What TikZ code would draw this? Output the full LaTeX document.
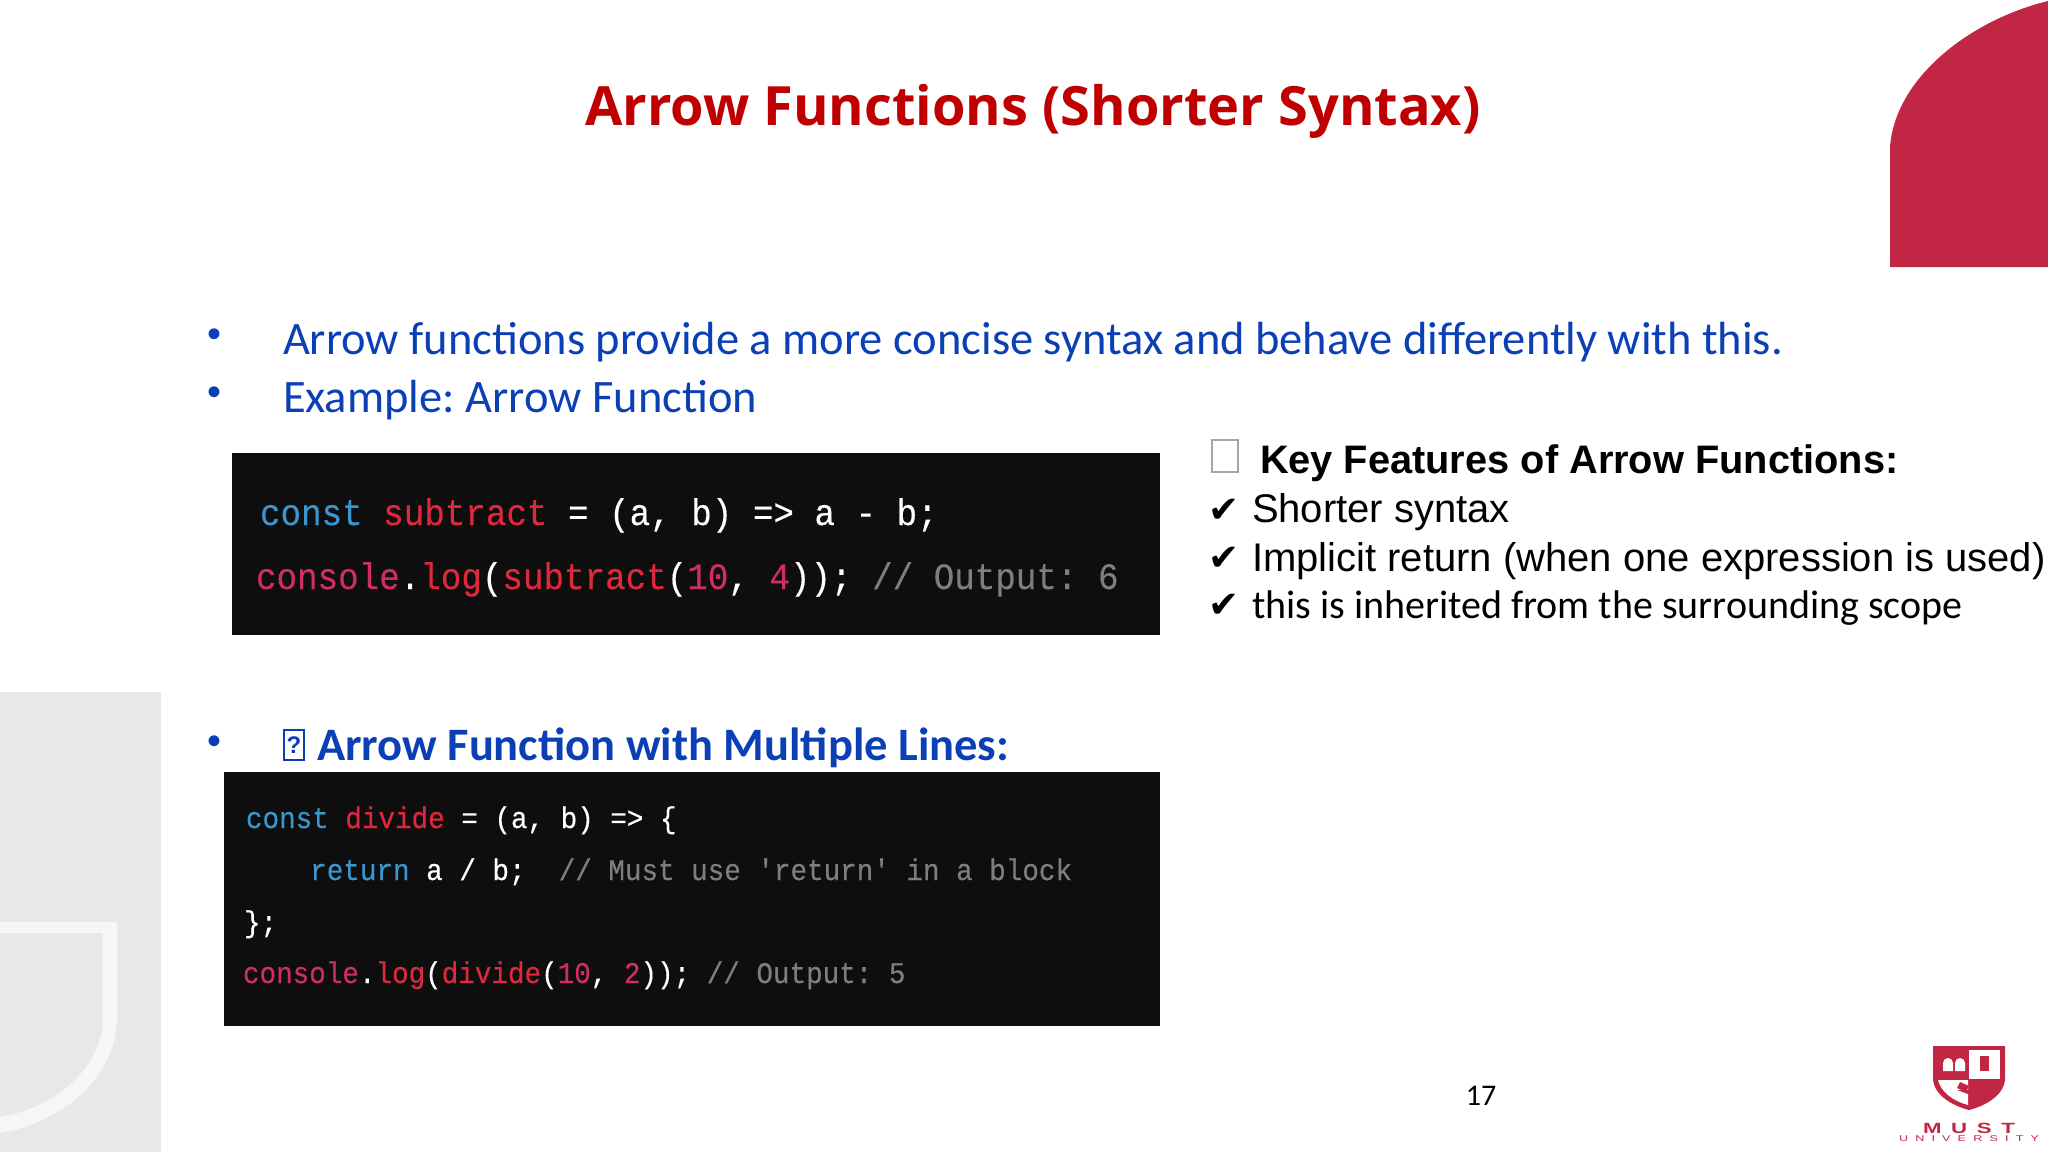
\documentclass[tikz,border=0pt]{standalone}
\usepackage{fontspec}
\usepackage{xcolor}
\usetikzlibrary{positioning}
\setmainfont{Carlito}
\newfontfamily\titlefont{Open Sans}
\newfontfamily\arialfont{Liberation Sans}
\newfontfamily\dejavufont{DejaVu Sans}
\newfontfamily\codefont[FakeStretch=0.92,FakeBold=0.3]{Liberation Mono}
\newfontfamily\logofont[FakeStretch=1.5]{Liberation Sans}
\definecolor{mustred}{HTML}{C12745}
\definecolor{titlered}{HTML}{C00000}
\definecolor{bodyblue}{HTML}{0B3FB5}
\definecolor{codebg}{HTML}{0E0E0E}
\definecolor{codeblue}{HTML}{3A96CC}
\definecolor{codered}{HTML}{E0283C}
\definecolor{codepink}{HTML}{D02C68}
\definecolor{codegray}{HTML}{7E7E7E}
\newcommand{\kw}[1]{\textcolor{codeblue}{#1}}
\newcommand{\fn}[1]{\textcolor{codered}{#1}}
\newcommand{\num}[1]{\textcolor{codepink}{#1}}
\newcommand{\cmt}[1]{\textcolor{codegray}{#1}}
\frenchspacing

\begin{document}
\begin{tikzpicture}[
    x=0.5pt, y=-0.5pt,
    every node/.style={inner sep=0pt, outer sep=0pt},
    slidetitle/.style={anchor=base, text=titlered, font=\titlefont\bfseries\fontsize{27.07}{30}\selectfont},
    bodyline/.style={anchor=base west, text=bodyblue, font=\fontsize{23.25}{26}\selectfont},
    dotmark/.style={anchor=base, text=bodyblue, font=\arialfont\fontsize{20}{24}\selectfont},
    featline/.style={anchor=base west, font=\arialfont\fontsize{20}{24}\selectfont},
    tickmark/.style={anchor=base west, font=\dejavufont\fontsize{18.5}{22}\selectfont},
    codebox/.style={anchor=north west, fill=codebg},
    codebig/.style={anchor=base west, text=white, font=\codefont\fontsize{18.6}{22}\selectfont},
    codesmall/.style={anchor=base west, text=white, font=\codefont\fontsize{15}{18}\selectfont}
]
\useasboundingbox (0,0) rectangle (2048,1152);

% corner shapes
\fill[gray!18] (0,692) rectangle (161,1152);
\fill[white!60!gray!18!white] (0,922) -- (117,922) -- (117,1017) .. controls (117,1075) and (65,1122) .. (0,1133) -- (0,1117) .. controls (55,1108) and (103,1068) .. (103,1017) -- (103,933) -- (0,933) -- cycle;
\fill[mustred] (1890,267) -- (1890,147) .. controls (1895,78) and (1970,20) .. (2048,1) -- (2048,267) -- cycle;

% title and bullets
\node[slidetitle] (title) at (1033,125) {Arrow Functions (Shorter Syntax)};
\node[dotmark] (dotA) at (214,347) {•};
\node[dotmark] (dotB) at (214,405) {•};
\node[dotmark] (dotC) at (214,754) {•};
\node[bodyline] (lineA) at (283,354) {Arrow functions provide a more concise syntax and behave differently with this.};
\node[bodyline] (lineB) at (283,412) {Example: Arrow Function};
\node[draw=bodyblue, line width=0.8pt, minimum width=10pt, minimum height=15pt, anchor=north west, text=bodyblue, font=\arialfont\bfseries\fontsize{12}{14}\selectfont] (tofuC) at (284,730) {?};
\node[bodyline, font=\bfseries\fontsize{23.25}{26}\selectfont] (lineC) at (317,760) {Arrow Function with Multiple Lines:};

% first code block
\node[codebox, minimum width=464pt, minimum height=91pt] (codeA) at (232,453) {};
\node[codebig] (codeAa) at (260,525) {\kw{const} \fn{subtract} = (a, b) => a - b;};
\node[codebig] (codeAb) at (256,589) {\textcolor{codepink}{console}.\fn{log}(\fn{subtract}(\num{10}, \num{4})); \cmt{// Output: 6}};

% second code block
\node[codebox, minimum width=468pt, minimum height=127pt] (codeB) at (224,772) {};
\node[codesmall] (codeBa) at (246,828) {\kw{const} \fn{divide} = (a, b) => \{};
\node[codesmall] (codeBb) at (244,880) {\phantom{xxxx}\kw{return} a / b;\phantom{x} \cmt{// Must use 'return' in a block}};
\node[codesmall] (codeBc) at (244,932) {\};};
\node[codesmall] (codeBd) at (243,983) {\textcolor{codepink}{console}.\fn{log}(\fn{divide}(\num{10}, \num{2})); \cmt{// Output: 5}};

% key features
\node[draw=gray!70, line width=0.6pt, minimum width=13pt, minimum height=16pt, anchor=north west] (tofuD) at (1212,440) {};
\node[featline, font=\arialfont\bfseries\fontsize{19.88}{24}\selectfont] (featHead) at (1260,473) {Key Features of Arrow Functions:};
\node[tickmark] (tickA) at (1208,522) {✔};
\node[tickmark] (tickB) at (1208,570) {✔};
\node[tickmark] (tickC) at (1208,617) {✔};
\node[featline] (featA) at (1252,522) {Shorter syntax};
\node[featline] (featB) at (1252,571) {Implicit return (when one expression is used)};
\node[featline, font=\fontsize{20}{24}\selectfont] (featC) at (1252,618) {this is inherited from the surrounding scope};

% page number
\node[anchor=base, font=\fontsize{15}{18}\selectfont] (pageno) at (1481,1105) {17};

% logo
\fill[mustred] (1933,1046) -- (2005,1046) -- (2005,1078) .. controls (2005,1095) and (1985,1106) .. (1969,1110) .. controls (1953,1106) and (1933,1095) .. (1933,1078) -- cycle;
\fill[white] (1969,1050) rectangle (2000,1079);
\fill[white] (1938,1080) -- (1968,1080) -- (1968,1105) .. controls (1953,1101) and (1941,1092) .. (1938,1080) -- cycle;
\fill[white] (1943,1071) -- (1943,1063) arc[start angle=180, end angle=360, radius=5] -- (1953,1071) -- cycle;
\fill[white] (1955,1071) -- (1955,1063) arc[start angle=180, end angle=360, radius=5] -- (1965,1071) -- cycle;
\fill[mustred] (1980,1056) rectangle (1989,1071);
\fill[mustred] (1960,1082) -- (1969,1086) -- (1966,1092) -- (1957,1088) -- cycle;
\fill[mustred] (1957,1090) -- (1980,1090) -- (1968,1094) -- cycle;
\node[anchor=base, text=mustred, font=\logofont\bfseries\fontsize{7.4}{9}\selectfont] (logoA) at (1969,1133) {\makebox[46pt][s]{M\hfil U\hfil S\hfil T}};
\node[text=mustred, font=\logofont\fontsize{4.2}{5}\selectfont, below=1.5pt of logoA.base] (logoB) {\makebox[70pt][s]{U\hfil N\hfil I\hfil V\hfil E\hfil R\hfil S\hfil I\hfil T\hfil Y}};
\end{tikzpicture}
\end{document}
